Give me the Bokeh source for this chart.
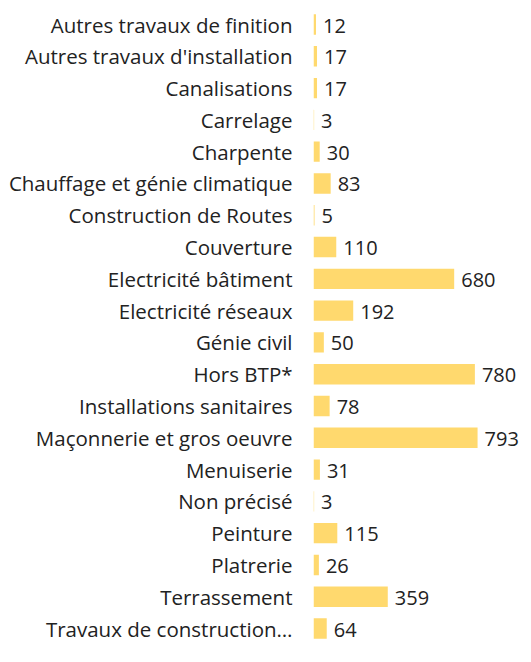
from bokeh.plotting import figure
from bokeh.models import ColumnDataSource, Range1d, FixedTicker
from bokeh.core.properties import value
from bokeh.embed import file_html
from bokeh.resources import INLINE

categories = [
    "Autres travaux de finition", "Autres travaux d'installation", "Canalisations",
    "Carrelage", "Charpente", "Chauffage et génie climatique", "Construction de Routes",
    "Couverture", "Electricité bâtiment", "Electricité réseaux", "Génie civil",
    "Hors BTP*", "Installations sanitaires", "Maçonnerie et gros oeuvre", "Menuiserie",
    "Non précisé", "Peinture", "Platrerie", "Terrassement", "Travaux de construction…",
]
values = [12, 17, 17, 3, 30, 83, 5, 110, 680, 192, 50, 780, 78, 793, 31, 3, 115, 26, 359, 64]

pos = list(range(len(categories)))
src = ColumnDataSource(dict(y=pos, v=values, lbl=[str(v) for v in values]))

FONT = "Open Sans"
p = figure(width=523, height=646, output_backend="svg", toolbar_location=None,
           x_range=Range1d(0, 1015), y_range=Range1d(19.565, -0.755),
           min_border_left=313, min_border_right=0, min_border_top=0, min_border_bottom=0)
p.hbar(y="y", right="v", left=0, height=0.64, source=src, color="#FFD96E", line_color=None)
p.text(x="v", y="y", text="lbl", source=src, x_offset=7, y_offset=1,
       text_baseline="middle", text_align="left", text_font=value(FONT),
       text_font_size="20px", text_color="#222222")

p.xaxis.visible = False
p.yaxis.ticker = FixedTicker(ticks=pos)
p.yaxis.major_label_overrides = {i: c for i, c in enumerate(categories)}
p.yaxis.major_label_text_font = FONT
p.yaxis.major_label_text_font_size = "20.5px"
p.yaxis.major_label_text_color = "#222222"
p.yaxis.major_label_standoff = 15
p.yaxis.major_tick_line_color = None
p.yaxis.minor_tick_line_color = None
p.yaxis.axis_line_color = None
p.xgrid.visible = False
p.ygrid.visible = False
p.outline_line_color = None

open("out.html", "w").write(file_html(p, INLINE))
